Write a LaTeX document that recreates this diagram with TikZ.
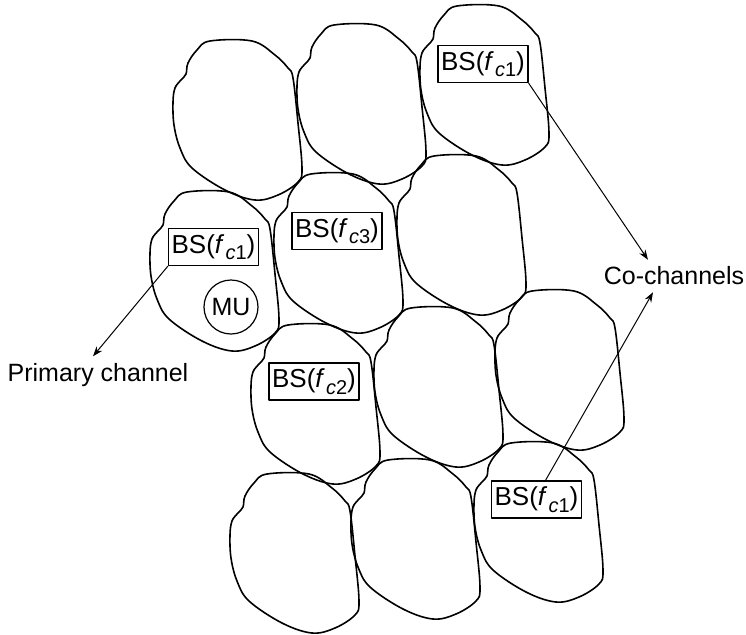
\documentclass[tikz,border=0pt]{standalone}
\usepackage{fontspec}
\setmainfont{Liberation Sans}
\usetikzlibrary{arrows.meta}
\newcommand{\fsub}[1]{\textit{f}\kern0.6pt\raisebox{-3.3pt}{\fontsize{10}{10}\selectfont\textit{c}#1}}

\begin{document}
\begin{tikzpicture}[x=0.5pt, y=-0.5pt, line join=round,
        every node/.style={font=\fontsize{12.5}{14}\selectfont},
        cell/.style={line width=0.8pt},
        bsbox/.style={draw, line width=0.6pt, minimum width=45pt, minimum height=18.5pt, inner sep=1pt,
            font=\fontsize{13}{14}\selectfont},
        arr/.style={line width=0.5pt, -{Stealth[length=5pt,width=3.6pt]}}]
        \useasboundingbox (0,0) rectangle (746,634);

        % Cells, by the top left corner of each outline.
        \foreach \cx/\cy in {172/41, 296/25, 419/6, 149/192, 273/174, 396/156,
                250/325, 373/308, 494/291, 229/474, 350/460, 473/443}
            \draw[cell, shift={(\cx,\cy)}] plot[smooth cycle, tension=0.6] coordinates
                {(38,0) (80,0) (103,14) (116,27) (121,37) (126,82) (130,127) (126,141)
                 (106,154) (83,159) (53,149) (20,127) (8,107) (2,84) (1,61) (3,47)
                 (9,39) (14,33) (16,22) (25,9)};

        % Base stations and mobile unit.
        \node[bsbox] (bsc) at (483,64) {BS(\fsub{1})};
        \node[bsbox] (bsd) at (213.5,247) {BS(\fsub{1})};
        \node[bsbox] (bse) at (337,231) {BS(\fsub{3})};
        \node[bsbox] (bsg) at (314,381.5) {BS(\fsub{2})};
        \node[bsbox] (bsl) at (536.5,499.5) {BS(\fsub{1})};
        \node[draw, circle, line width=0.6pt, minimum size=27pt, inner sep=0pt] (mu) at (231,307) {MU};

        % Channel labels.
        \node (pc) at (98,375) {Primary channel};
        \node (cc) at (674,276) {Co-channels};
        \coordinate (cctop) at ([xshift=-13pt]cc.north);
        \coordinate (ccbot) at ([xshift=-10.5pt]cc.south);
        \draw[arr] (bsd.south west) -- ([xshift=-2.5pt]pc.north);
        \draw[arr] (bsc.south east) -- (cctop);
        \draw[arr] ([xshift=4.5pt]bsl.north) -- (ccbot);
\end{tikzpicture}
\end{document}
